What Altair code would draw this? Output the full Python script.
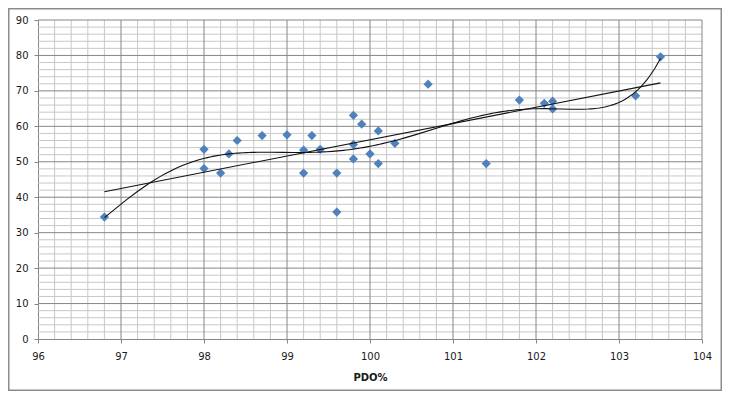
import altair as alt
import pandas as pd

# Data
pdo = [96.8, 98.0, 98.0, 98.2, 98.3, 98.4, 98.7, 99.0, 99.2, 99.2,
       99.3, 99.4, 99.6, 99.6, 99.8, 99.8, 99.8, 99.9, 100.0, 100.1,
       100.1, 100.3, 100.7, 101.4, 101.8, 102.1, 102.2, 102.2, 103.2, 103.5]
value = [34.4, 53.5, 48.1, 46.8, 52.2, 56.0, 57.4, 57.6, 53.3, 46.8,
         57.4, 53.5, 46.8, 35.8, 63.1, 54.9, 50.8, 60.6, 52.2, 58.7,
         49.5, 55.2, 71.9, 49.5, 67.4, 66.5, 67.1, 64.9, 68.6, 79.6]

x_major = list(range(96, 105))
y_major = list(range(0, 91, 10))
x_minor = [round(96 + 0.2 * i, 1) for i in range(41) if i % 5]
y_minor = [v for v in range(0, 91, 2) if v % 10]

df = pd.DataFrame({"PDO": pdo, "Value": value})

FONT = "DejaVu Sans"
xs = alt.Scale(domain=[96, 104], nice=False, zero=False)
ys = alt.Scale(domain=[0, 90], nice=False, zero=True)

x_axis = alt.Axis(values=x_major, title="PDO%", grid=False, tickSize=4,
                  tickColor="#868686", domainColor="#868686", labelFont=FONT,
                  labelFontSize=10, labelColor="#1a1a1a", labelPadding=8,
                  labelFlush=False, labelOverlap=False,
                  titleFont=FONT, titleFontSize=10, titleFontWeight="bold",
                  titleColor="#1a1a1a", titlePadding=11, format="d")
y_axis = alt.Axis(values=y_major, title=None, grid=False, tickSize=4,
                  tickColor="#868686", domainColor="#868686", labelFont=FONT,
                  labelFontSize=10, labelColor="#1a1a1a", labelPadding=6,
                  labelFlush=False, labelOverlap=False, format="d")

X = lambda f: alt.X(f"{f}:Q", scale=xs, axis=x_axis)
Y = lambda f: alt.Y(f"{f}:Q", scale=ys, axis=y_axis)

minor_x = alt.Chart(pd.DataFrame({"PDO": x_minor})).mark_rule(
    color="#c8c8c8", strokeWidth=1).encode(x=X("PDO"))
minor_y = alt.Chart(pd.DataFrame({"Value": y_minor})).mark_rule(
    color="#c8c8c8", strokeWidth=1).encode(y=Y("Value"))
major_x = alt.Chart(pd.DataFrame({"PDO": x_major[1:]})).mark_rule(
    color="#868686", strokeWidth=1).encode(x=X("PDO"))
major_y = alt.Chart(pd.DataFrame({"Value": y_major[1:]})).mark_rule(
    color="#868686", strokeWidth=1).encode(y=Y("Value"))

points = alt.Chart(df).mark_point(
    shape="diamond", filled=True, size=85, color="#4F81BD", opacity=1
).encode(x=X("PDO"), y=Y("Value"))

linear = alt.Chart(df).transform_regression("PDO", "Value").mark_line(
    color="#111111", strokeWidth=1.1).encode(x=X("PDO"), y=Y("Value"))
poly = alt.Chart(df).transform_regression(
    "PDO", "Value", method="poly", order=6).mark_line(
    color="#111111", strokeWidth=1.1).encode(x=X("PDO"), y=Y("Value"))

frame = alt.Chart(pd.DataFrame({"PDO": [0]})).mark_rect(
    filled=False, stroke="#8c8c8c", strokeWidth=1.5).encode(
    x=alt.value(-29.25), x2=alt.value(683.25), y=alt.value(-11.25), y2=alt.value(370.25))

chart = alt.layer(minor_x, minor_y, major_x, major_y, points, linear, poly, frame).properties(
    width=664, height=319,
    padding={"left": 30, "top": 12, "right": 20, "bottom": 52},
    autosize="none",
    background="white",
).configure_view(stroke=None)

chart.save("out.html", embed_options={"renderer": "svg", "actions": False})
